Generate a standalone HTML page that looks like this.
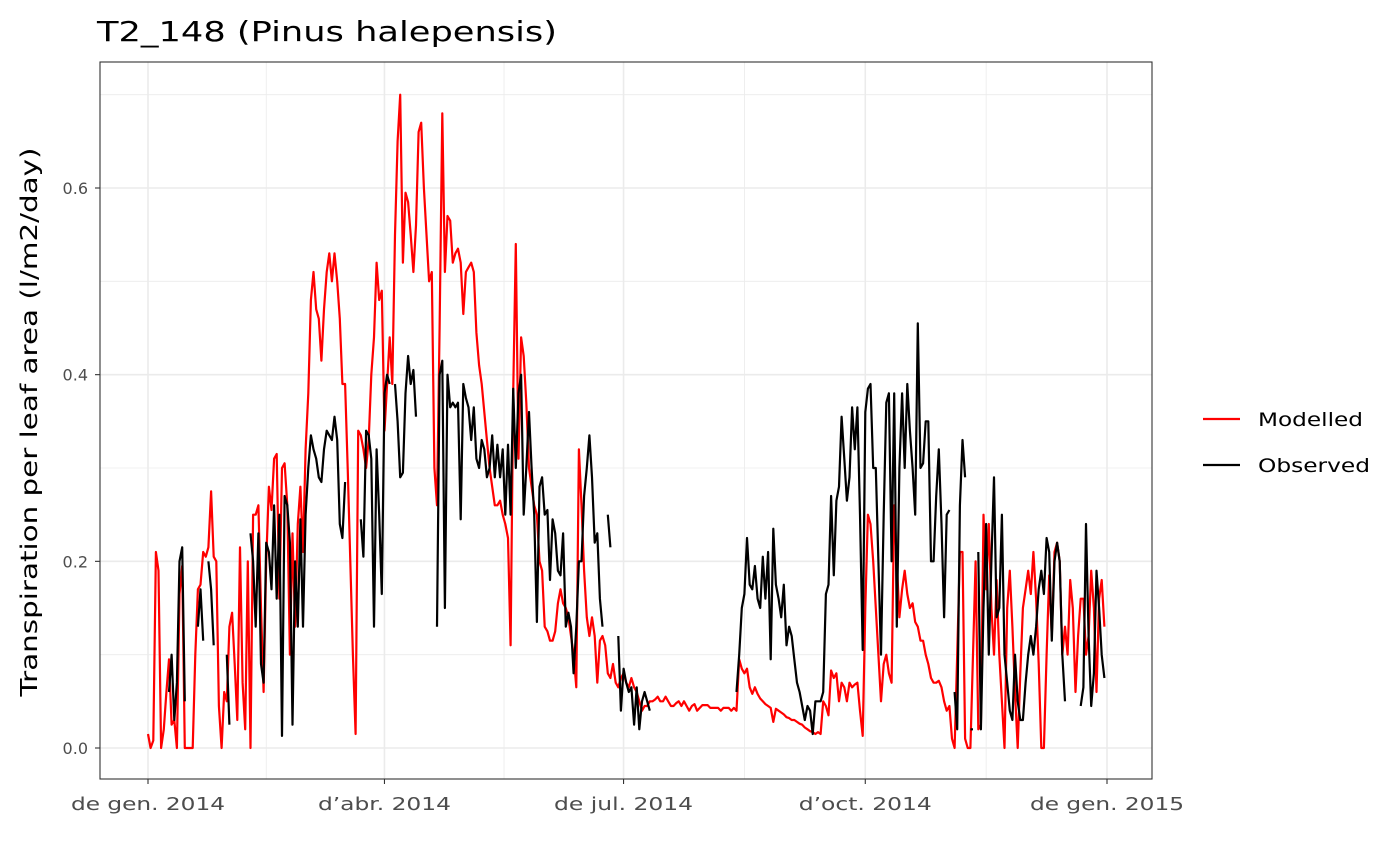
<!DOCTYPE html>
<html><head><meta charset="utf-8"><style>
html,body{margin:0;padding:0;background:#fff;}
svg{display:block;font-family:"DejaVu Sans","Liberation Sans",sans-serif;}
</style></head><body>
<svg id="chart" width="1400" height="865" viewBox="0 0 1400 865" xmlns="http://www.w3.org/2000/svg">
<rect width="1400" height="865" fill="#fff"/>
<text x="97" y="41" font-size="28" fill="#000" textLength="460" lengthAdjust="spacingAndGlyphs">T2_148 (Pinus halepensis)</text>
<g id="grid"></g>
<g id="series"></g>
<rect x="100" y="62" width="1052" height="717" fill="none" stroke="#333" stroke-width="1.1"/>
<g id="axes"></g>
<text transform="translate(37,422) rotate(-90)" text-anchor="middle" font-size="23" fill="#000" textLength="549" lengthAdjust="spacingAndGlyphs">Transpiration per leaf area (l/m2/day)</text>
<g>
<line x1="1203" y1="419" x2="1240" y2="419" stroke="#ff0000" stroke-width="2.2"/>
<text x="1258" y="426" font-size="19" fill="#000" textLength="105" lengthAdjust="spacingAndGlyphs">Modelled</text>
<line x1="1203" y1="465" x2="1240" y2="465" stroke="#000" stroke-width="2.2"/>
<text x="1258" y="472" font-size="19" fill="#000" textLength="112" lengthAdjust="spacingAndGlyphs">Observed</text>
</g>
</svg>
<script>
const yTicks=[0,0.2,0.4,0.6];
const yTickLabels=["0.0","0.2","0.4","0.6"];
const xTickDays=[0,90,181,273,365];
const xTickLabels=["de gen. 2014","d\u2019abr. 2014","de jul. 2014","d\u2019oct. 2014","de gen. 2015"];
const xTickLabelWidths=[154,133,139,133,154];
const modelled=[.015,0,.008,.21,.19,0,.02,.06,.095,.025,
.03,0,.165,.195,0,0,0,0,.1,.17,
.175,.21,.205,.215,.275,.205,.2,.045,0,.06,
.05,.13,.145,.09,.03,.215,.07,.02,.2,0,
.25,.25,.26,.15,.06,.2,.28,.255,.31,.315,
.16,.3,.305,.26,.1,.23,.13,.24,.28,.21,
.32,.38,.48,.51,.47,.46,.415,.47,.51,.53,
.5,.53,.5,.46,.39,.39,.3,.2,.1,.015,
.34,.335,.32,.3,.33,.4,.44,.52,.48,.49,
.34,.39,.44,.39,.55,.65,.7,.52,.595,.585,
.55,.51,.56,.66,.67,.6,.55,.5,.51,.3,
.26,.45,.68,.51,.57,.565,.52,.53,.535,.52,
.465,.51,.515,.52,.51,.445,.41,.39,.36,.33,
.3,.28,.26,.26,.265,.25,.24,.225,.11,.38,
.54,.31,.44,.42,.37,.3,.28,.26,.25,.2,
.19,.13,.125,.115,.115,.125,.155,.17,.155,.15,
.14,.12,.1,.065,.32,.26,.19,.14,.12,.14,
.12,.07,.115,.12,.11,.08,.075,.09,.07,.065,
.075,.08,.07,.065,.075,.065,.06,.05,.04,.045,
.045,.05,.05,.052,.055,.05,.05,.055,.05,.045,
.045,.048,.05,.045,.05,.045,.04,.045,.047,.04,
.043,.046,.046,.046,.043,.043,.043,.043,.04,.043,
.043,.043,.04,.043,.04,.095,.085,.08,.085,.065,
.058,.065,.058,.053,.05,.047,.045,.043,.028,.042,
.04,.038,.036,.033,.032,.03,.03,.028,.026,.025,
.022,.02,.018,.017,.015,.017,.015,.05,.045,.035,
.083,.075,.08,.05,.07,.065,.05,.07,.065,.068,
.07,.04,.013,.15,.25,.24,.2,.15,.1,.05,
.09,.1,.08,.07,.26,.2,.14,.17,.19,.165,
.15,.155,.135,.13,.115,.115,.1,.09,.075,.07,
.07,.072,.065,.05,.04,.045,.01,0,.1,.21,
.21,.01,0,0,.1,.2,.02,.025,.25,.17,
.24,.15,.1,.18,.1,.05,0,.15,.19,.13,
.06,0,.08,.15,.17,.19,.165,.21,.16,.09,
0,0,.1,.185,.12,.21,.22,.2,.1,.13,
.1,.18,.15,.06,.12,.16,.16,.1,.12,.19,
.15,.06,.16,.18,.13];
const observedStartDay=8;
const observed=[.06,.1,.03,.07,.2,.215,.05,null,null,null,
null,.13,.17,.115,null,.2,.17,.11,null,null,
null,null,.1,.025,null,null,null,null,null,null,
null,.23,.2,.13,.23,.09,.07,.22,.21,.17,
.26,.16,.25,.013,.27,.26,.22,.025,.2,.13,
.245,.13,.25,.3,.335,.32,.31,.29,.285,.32,
.34,.335,.33,.355,.33,.24,.225,.285,null,null,
null,null,null,.245,.205,.34,.335,.31,.13,.32,
.25,.165,.38,.4,.39,null,.39,.35,.29,.295,
.38,.42,.39,.405,.355,null,null,null,null,null,
null,null,.13,.4,.415,.15,.4,.365,.37,.365,
.37,.245,.39,.375,.365,.33,.365,.31,.3,.33,
.32,.29,.3,.335,.29,.325,.29,.32,.25,.325,
.25,.385,.3,.38,.4,.25,.3,.36,.3,.25,
.135,.28,.29,.25,.255,.18,.245,.23,.19,.185,
.23,.13,.145,.13,.08,.13,.2,.2,.27,.3,
.335,.29,.22,.23,.16,.13,null,.25,.215,null,
null,.12,.04,.085,.07,.06,.065,.025,.065,.02,
.05,.06,.05,.04,null,null,null,null,null,null,
null,null,null,null,null,null,null,null,null,null,
null,null,null,null,null,null,null,null,null,null,
null,null,null,null,null,null,.06,.1,.15,.165,
.225,.175,.17,.195,.16,.15,.205,.16,.21,.095,
.235,.175,.16,.14,.175,.11,.13,.12,.095,.07,
.06,.045,.03,.045,.04,.015,.05,.05,.05,.06,
.165,.175,.27,.185,.265,.28,.355,.31,.265,.29,
.365,.32,.365,.25,.105,.36,.385,.39,.3,.3,
.2,.1,.25,.37,.38,.2,.38,.13,.3,.38,
.3,.39,.34,.3,.25,.455,.3,.305,.35,.35,
.2,.2,.27,.32,.24,.14,.25,.255,null,.06,
.02,.26,.33,.29,null,.02,.02,null,.21,.02,
.15,.24,.1,.2,.29,.14,.15,.25,.1,.07,
.04,.03,.1,.05,.03,.03,.07,.1,.12,.1,
.13,.17,.19,.165,.225,.21,.115,.2,.22,.2,
.1,.05,null,null,null,null,null,.045,.065,.24,
.12,.045,.08,.19,.15,.1,.075];

const NS="http://www.w3.org/2000/svg";
const X0=148, PXDAY=(1107-148)/365, Y0=748, PXUNIT=(748-188)/0.6;
function xs(d){return X0+d*PXDAY;}
function ys(v){return Y0-v*PXUNIT;}
function mk(tag,attrs,parent){const e=document.createElementNS(NS,tag);for(const k in attrs)e.setAttribute(k,attrs[k]);parent.appendChild(e);return e;}
const grid=document.getElementById('grid'), axes=document.getElementById('axes'), ser=document.getElementById('series');
for(let i=0;i<yTicks.length;i++){
  const v=yTicks[i]+0.1;
  const l=mk('line',{x1:100,x2:1152,y1:ys(v),y2:ys(v),stroke:'#ebebeb','stroke-width':0.8},grid);
  
  
}
for(let i=0;i<xTickDays.length-1;i++){
  const d=(xTickDays[i]+xTickDays[i+1])/2;
  const l=mk('line',{x1:xs(d),x2:xs(d),y1:62,y2:779,stroke:'#ebebeb','stroke-width':0.8},grid);
  
  
}
for(let i=0;i<yTicks.length;i++){
  const y=ys(yTicks[i]);
  const l=mk('line',{x1:100,x2:1152,y1:y,y2:y,stroke:'#ebebeb','stroke-width':1.6},grid);
  
  
  const t=mk('line',{x1:95,x2:100,y1:y,y2:y,stroke:'#333','stroke-width':1.1},axes);
  
  
  const tx=mk('text',{x:88,y:y+6,'text-anchor':'end','font-size':16,fill:'#4d4d4d'},axes);
  tx.textContent=yTickLabels[i];
  
  
}
for(let i=0;i<xTickDays.length;i++){
  const x=xs(xTickDays[i]);
  const l=mk('line',{x1:x,x2:x,y1:62,y2:779,stroke:'#ebebeb','stroke-width':1.6},grid);
  
  
  const t=mk('line',{x1:x,x2:x,y1:779,y2:784,stroke:'#333','stroke-width':1.1},axes);
  
  
  const tx=mk('text',{x:x,y:810,'text-anchor':'middle','font-size':18,fill:'#4d4d4d',textLength:xTickLabelWidths[i],lengthAdjust:'spacingAndGlyphs'},axes);
  tx.textContent=xTickLabels[i];
  
  
}
function pathFor(vals,start){
  let d='',pen=false;
  for(let i=0;i<vals.length;i++){
    const v=vals[i];
    if(v===null||v===undefined){pen=false;continue;}
    d+=(pen?'L':'M')+xs(start+i).toFixed(1)+','+ys(v).toFixed(1);
    pen=true;
  }
  return d;
}
const pm=mk('path',{d:pathFor(modelled,0),fill:'none',stroke:'#ff0000','stroke-width':2.2,'stroke-linejoin':'round'},ser);


const po=mk('path',{d:pathFor(observed,observedStartDay),fill:'none',stroke:'#000','stroke-width':2.2,'stroke-linejoin':'round'},ser);


</script>
</body></html>
